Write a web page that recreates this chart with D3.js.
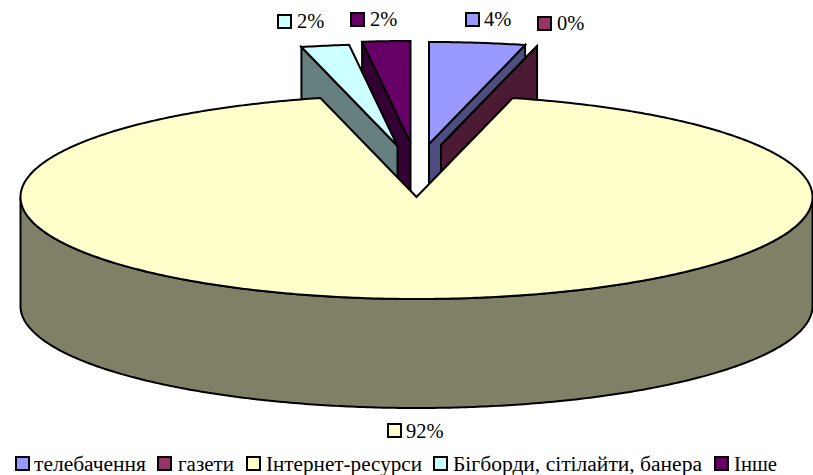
<!DOCTYPE html>
<html><head><meta charset="utf-8">
<script src="https://cdn.jsdelivr.net/npm/d3@7"></script>
<style>html,body{margin:0;padding:0;background:#fff}svg{display:block}text{font-family:"Liberation Serif",serif;fill:#000}</style>
</head><body><div id="c"></div>
<script>
const categories = ["телебачення","газети","Інтернет-ресурси","Бігборди, сітілайти, банера","Інше"];
const values = [3.9, 0, 92.2, 1.95, 1.95];
const tickLabels = ["4%","0%","92%","2%","2%"];
const colors = ["#9999FF","#993366","#FFFFCC","#CCFFFF","#660066"];
const sideColors = ["#4D4D80","#4D1A33","#808066","#668080","#330033"];

const W=813,H=475, rx=396, ry=102, depth=109;
const svg=d3.select("#c").append("svg").attr("width",W).attr("height",H);
const pie=d3.pie().sort(null).value(d=>d).startAngle(0).endAngle(2*Math.PI);
const arcs=pie(values);

// layout per slice: apex of each exploded wedge
const apex=[[429,144],[441,145],[416.5,197],[397.5,146],[410.5,143]];
const labelPos=[[466,13,484,26],[538,17,557,30],[388,424,406,438],[278,15,297,28],[351,13,370,26]];
const legendPos=[[16,34,112],[158,178,56],[247,266,156],[434,453,249],[715,734,43]];

const sx=d3.scaleLinear().domain([-1,1]).range([-rx,rx]);
const sy=d3.scaleLinear().domain([-1,1]).range([-ry,ry]);
const pt=(i,a,dy=0)=>[apex[i][0]+sx(Math.sin(a)),apex[i][1]-sy(Math.cos(a))+dy];
const line=d3.line();
function rimPts(i,a0,a1,dy=0){
  const n=Math.max(2,Math.ceil(Math.abs(a1-a0)/0.01)), out=[];
  for(let k=0;k<=n;k++) out.push(pt(i,a0+(a1-a0)*k/n,dy));
  return out;
}
const g=svg.append("g").attr("stroke","#000").attr("stroke-width",2).attr("stroke-linejoin","miter");
function drawTop(i){
  const a=arcs[i];
  g.append("path").attr("fill",colors[i]).attr("d",line([apex[i],...rimPts(i,a.startAngle,a.endAngle)])+"Z");
}
function drawSide(i,ang){
  const p=pt(i,ang), c=apex[i];
  g.append("path").attr("fill",sideColors[i]).attr("d",line([c,p,[p[0],p[1]+depth],[c[0],c[1]+depth]])+"Z");
}
// back wedges, left group then right group
drawSide(4,arcs[4].startAngle); drawTop(4);
drawSide(3,arcs[3].startAngle); drawTop(3);
drawSide(0,arcs[0].endAngle); drawTop(0);
drawSide(1,arcs[1].endAngle); drawTop(1);
// big front slice
{
  const a=arcs[2];
  const lo=Math.max(a.startAngle,Math.PI/2), hi=Math.min(a.endAngle,3*Math.PI/2);
  g.append("path").attr("fill",sideColors[2]).attr("d",
    line([...rimPts(2,lo,hi),...rimPts(2,hi,lo,depth)])+"Z");
  drawTop(2);
}
// data labels
arcs.forEach((a,i)=>{
  const p=labelPos[i];
  svg.append("rect").attr("x",p[0]).attr("y",p[1]).attr("width",13).attr("height",13)
    .attr("fill",colors[i]).attr("stroke","#000").attr("stroke-width",2);
  svg.append("text").attr("x",p[2]).attr("y",p[3]).attr("font-size",20.5).text(tickLabels[i]);
});
// legend
categories.forEach((c,i)=>{
  const p=legendPos[i];
  svg.append("rect").attr("x",p[0]).attr("y",457).attr("width",13).attr("height",13)
    .attr("fill",colors[i]).attr("stroke","#000").attr("stroke-width",2);
  svg.append("text").attr("x",p[1]).attr("y",471).attr("font-size",20.5)
    .attr("textLength",p[2]).attr("lengthAdjust","spacingAndGlyphs").text(c);
});
</script></body></html>
